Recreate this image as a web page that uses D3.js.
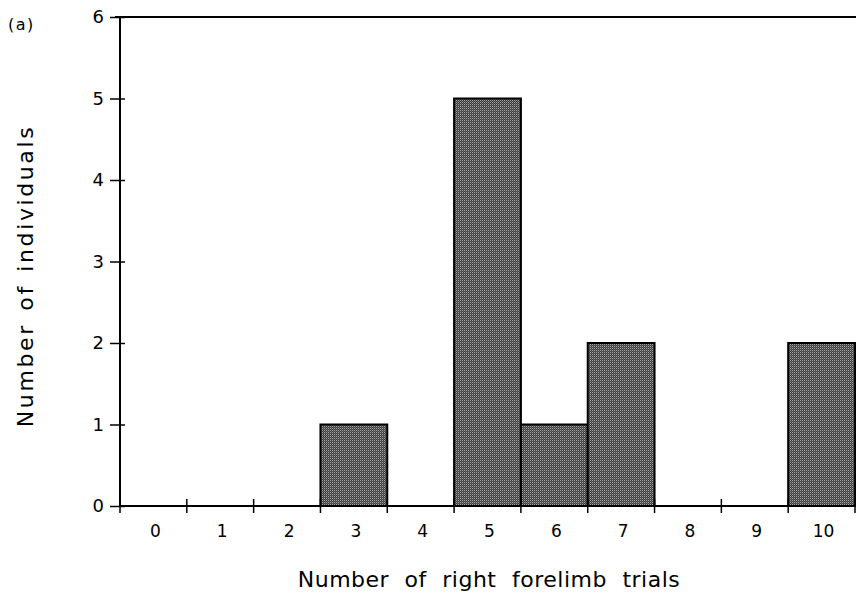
<!DOCTYPE html>
<html><head><meta charset="utf-8">
<script src="https://cdn.jsdelivr.net/npm/d3@7"></script>
<style>body{margin:0;background:#fff}svg{display:block}</style>
</head><body>
<script>
const categories = [0,1,2,3,4,5,6,7,8,9,10];
const counts = [0,0,0,1,0,5,1,2,0,0,2];
const yTicks = [0,1,2,3,4,5,6];
const xTitle = "Number of right forelimb trials";
const yTitle = "Number of individuals";
const panel = "(a)";

(function(){
const W = 856, H = 599;
const svg = d3.select("body").append("svg").attr("width", W).attr("height", H);
const defs = svg.append("defs");
const pat = defs.append("pattern").attr("id","dots").attr("width",2).attr("height",2).attr("patternUnits","userSpaceOnUse");
pat.append("rect").attr("width",2).attr("height",2).attr("fill","#3a3a3a");
pat.append("rect").attr("width",1).attr("height",1).attr("fill","#a8a8a8");
pat.append("rect").attr("x",1).attr("y",1).attr("width",1).attr("height",1).attr("fill","#6a6a6a");

const mLeft = 120, mRight = 855, mTop = 17, mBottom = 506;
const x = d3.scaleBand().domain(categories).range([mLeft, mRight]).paddingInner(0).paddingOuter(0);
const y = d3.scaleLinear().domain([0, 6]).range([mBottom, mTop]);
const font = "DejaVu Sans";

// bars
svg.append("g").selectAll("rect").data(categories.map((c,i)=>({c, v: counts[i]})).filter(d=>d.v>0))
  .join("rect")
  .attr("x", d => x(d.c)).attr("width", x.bandwidth())
  .attr("y", d => y(d.v)).attr("height", d => y(0) - y(d.v))
  .attr("fill", "url(#dots)").attr("stroke", "#000").attr("stroke-width", 2);

// top border
svg.append("line").attr("x1", mLeft-5).attr("x2", W).attr("y1", y(6)).attr("y2", y(6))
  .attr("stroke","#000").attr("stroke-width",2);

// y axis
const yAxis = svg.append("g").attr("transform", `translate(${mLeft},0)`)
  .call(d3.axisLeft(y).tickValues(yTicks).tickFormat(d3.format("d")).tickSize(10).tickPadding(6));
yAxis.select(".domain").attr("stroke-width", 2).attr("d", `M0,${y(6)}V${y(0)}`);
yAxis.selectAll(".tick line").attr("stroke-width", 1.5).attr("x2", -10).attr("x1", 5);
yAxis.selectAll(".tick text").attr("font-family", font).attr("font-size", 18).attr("fill","#000");

// x axis
const bounds = categories.map(c => x(c)).concat([mRight]);
const xg = svg.append("g");
xg.append("line").attr("x1", mLeft).attr("x2", mRight).attr("y1", mBottom).attr("y2", mBottom)
  .attr("stroke","#000").attr("stroke-width",2);
xg.selectAll("line.t").data(bounds).join("line").attr("class","t")
  .attr("x1", d=>d).attr("x2", d=>d).attr("y1", mBottom-7).attr("y2", mBottom+7)
  .attr("stroke","#000").attr("stroke-width",1.5);
xg.selectAll("text").data(categories).join("text")
  .attr("x", d => x(d) + x.bandwidth()/2 + 2).attr("y", 537)
  .attr("text-anchor","middle").attr("font-family", font).attr("font-size", 17).text(d => d);

// titles
svg.append("text").attr("x", 489).attr("y", 587).attr("text-anchor","middle")
  .attr("font-family", font).attr("font-size", 22).attr("letter-spacing", 0.5).attr("word-spacing", 8).text(xTitle);
svg.append("text").attr("transform", "translate(33,276) rotate(-90)").attr("text-anchor","middle")
  .attr("font-family", font).attr("font-size", 22).attr("letter-spacing", 2.6).attr("word-spacing", 3).text(yTitle);
svg.append("text").attr("x", 8).attr("y", 30).attr("font-family", font).attr("font-size", 16).attr("letter-spacing", 1.5).text(panel);
})();
</script>
</body></html>
